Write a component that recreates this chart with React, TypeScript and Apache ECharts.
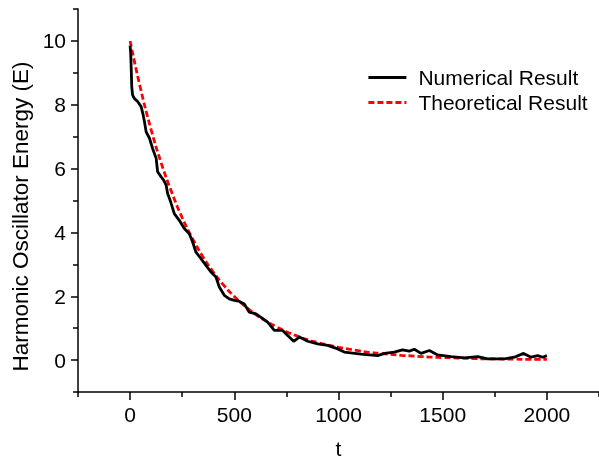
import React, { useEffect, useRef } from "react";
import * as echarts from "echarts";

const numT = [0, 3, 6, 8, 12, 20, 36, 53, 62, 69, 77, 93, 108, 125, 132, 149, 160, 173, 180, 195, 212, 236, 260, 284, 300, 316, 340, 364, 388, 412, 428, 452, 476, 500, 520, 548, 572, 604, 628, 660, 692, 732, 756, 785, 812, 852, 900, 948, 996, 1028, 1108, 1188, 1220, 1268, 1307, 1340, 1364, 1396, 1436, 1476, 1540, 1604, 1668, 1716, 1796, 1844, 1888, 1924, 1956, 1980, 2000];
const numE = [9.85, 9.6, 9.0, 8.55, 8.3, 8.2, 8.1, 7.94, 7.7, 7.47, 7.15, 6.95, 6.63, 6.32, 5.9, 5.74, 5.65, 5.48, 5.22, 4.95, 4.59, 4.38, 4.12, 3.96, 3.7, 3.38, 3.18, 2.97, 2.76, 2.6, 2.29, 2.03, 1.92, 1.87, 1.85, 1.76, 1.5, 1.45, 1.34, 1.19, 0.93, 0.93, 0.77, 0.59, 0.72, 0.59, 0.51, 0.46, 0.35, 0.25, 0.19, 0.14, 0.21, 0.25, 0.32, 0.28, 0.34, 0.21, 0.3, 0.16, 0.11, 0.07, 0.11, 0.04, 0.04, 0.09, 0.21, 0.09, 0.14, 0.09, 0.14];

const theoT = [0, 50, 100, 150, 200, 250, 300, 350, 400, 450, 500, 550, 600, 650, 700, 750, 800, 850, 900, 950, 1000, 1050, 1100, 1150, 1200, 1250, 1300, 1350, 1400, 1450, 1500, 1550, 1600, 1650, 1700, 1750, 1800, 1850, 1900, 1950, 2000];
const theoE = [10, 8.51, 7.24, 6.16, 5.25, 4.46, 3.8, 3.23, 2.75, 2.34, 1.99, 1.7, 1.44, 1.23, 1.05, 0.89, 0.76, 0.64, 0.55, 0.47, 0.4, 0.34, 0.29, 0.24, 0.21, 0.18, 0.15, 0.13, 0.11, 0.09, 0.08, 0.07, 0.06, 0.05, 0.04, 0.04, 0.03, 0.03, 0.02, 0.02, 0.02];

const xMajor = [0, 500, 1000, 1500, 2000];
const xMinor = [-250, 250, 750, 1250, 1750, 2250];
const yMajor = [0, 2, 4, 6, 8, 10];
const yMinor = [-1, 1, 3, 5, 7, 9, 11];

const FONT = "'Liberation Sans', Arial, sans-serif";

export default function App() {
  const ref = useRef<HTMLDivElement>(null);
  useEffect(() => {
    if (!ref.current) return;
    const chart = echarts.init(ref.current, undefined, { renderer: "svg" });
    const axisLineStyle = { color: "#000", width: 1.5 };
    chart.setOption({
      animation: false,
      grid: { left: 78, right: 0, top: 9, bottom: 72, containLabel: false },
      legend: {
        orient: "vertical",
        left: 367,
        top: 67,
        padding: 0,
        itemWidth: 38,
        itemHeight: 14,
        itemGap: 4,
        itemStyle: { opacity: 0 },
        lineStyle: { width: 2.8 },
        data: ["Numerical Result", "Theoretical Result"],
        textStyle: { fontSize: 21, color: "#000", fontFamily: FONT, padding: [0, 0, 0, 7] },
      },
      xAxis: [
        {
          type: "value",
          min: -250,
          max: 2250,
          name: "t",
          nameLocation: "middle",
          nameGap: 46,
          nameTextStyle: { fontSize: 21, color: "#000", fontFamily: FONT },
          axisLine: { show: true, onZero: false, lineStyle: axisLineStyle },
          axisTick: { show: true, inside: false, length: 8, customValues: xMajor, lineStyle: axisLineStyle },
          axisLabel: {
            customValues: xMajor,
            formatter: (v: number) => String(v),
            margin: 12,
            fontSize: 21,
            color: "#000",
            fontFamily: FONT,
          },
          splitLine: { show: false },
        },
        {
          type: "value",
          min: -250,
          max: 2250,
          position: "bottom",
          axisLine: { show: false, onZero: false },
          axisTick: { show: true, inside: false, length: 5, customValues: xMinor, lineStyle: axisLineStyle },
          axisLabel: { show: false },
          splitLine: { show: false },
        },
      ],
      yAxis: [
        {
          type: "value",
          min: -1,
          max: 11,
          name: "Harmonic Oscillator Energy (E)",
          nameLocation: "middle",
          nameGap: 45,
          nameTextStyle: { fontSize: 22.5, color: "#000", fontFamily: FONT, padding: [0, 32, 0, 0] },
          axisLine: { show: true, onZero: false, lineStyle: axisLineStyle },
          axisTick: { show: true, inside: false, length: 7, customValues: yMajor, lineStyle: axisLineStyle },
          axisLabel: {
            customValues: yMajor,
            formatter: (v: number) => String(v),
            margin: 12,
            fontSize: 21,
            color: "#000",
            fontFamily: FONT,
          },
          splitLine: { show: false },
        },
        {
          type: "value",
          min: -1,
          max: 11,
          position: "left",
          axisLine: { show: false, onZero: false },
          axisTick: { show: true, inside: false, length: 5, customValues: yMinor, lineStyle: axisLineStyle },
          axisLabel: { show: false },
          splitLine: { show: false },
        },
      ],
      series: [
        {
          name: "Numerical Result",
          type: "line",
          xAxisIndex: 0,
          yAxisIndex: 0,
          z: 3,
          showSymbol: false,
          symbol: "none",
          lineStyle: { color: "#000", width: 2.8 },
          itemStyle: { color: "#000" },
          data: numT.map((t, i) => [t, numE[i]]),
        },
        {
          name: "Theoretical Result",
          type: "line",
          xAxisIndex: 0,
          yAxisIndex: 0,
          z: 2,
          showSymbol: false,
          symbol: "none",
          smooth: true,
          lineStyle: { color: "#ff0000", width: 2.8, type: [6, 3] },
          itemStyle: { color: "#ff0000" },
          data: theoT.map((t, i) => [t, theoE[i]]),
        },
      ],
    });
    return () => chart.dispose();
  }, []);
  return <div ref={ref} style={{ position: "fixed", left: 0, top: 0, width: 599, height: 464 }} />;
}
